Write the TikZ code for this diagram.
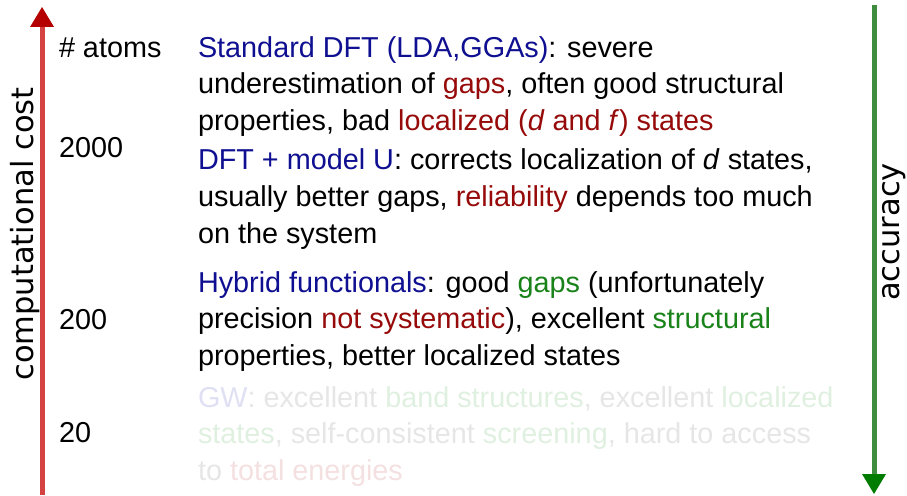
\documentclass[tikz,border=0pt]{standalone}
\usepackage{fontspec}
\setmainfont{Liberation Sans}
\newfontfamily\rotfont{DejaVu Sans}
\definecolor{cblue}{RGB}{15,15,145}
\definecolor{cred}{RGB}{150,10,10}
\definecolor{cgreen}{RGB}{25,130,25}
\definecolor{fblue}{RGB}{224,224,244}
\definecolor{fgray}{RGB}{230,230,230}
\definecolor{fgreen}{RGB}{224,240,224}
\definecolor{fred}{RGB}{244,224,224}
\definecolor{redshaft}{RGB}{212,66,66}
\definecolor{redtip}{RGB}{180,0,0}
\definecolor{greenshaft}{RGB}{62,140,62}
\definecolor{greentip}{RGB}{0,125,0}
\newcommand{\cB}[1]{\textcolor{cblue}{#1}}
\newcommand{\cR}[1]{\textcolor{cred}{#1}}
\newcommand{\cG}[1]{\textcolor{cgreen}{#1}}
\newcommand{\fB}[1]{\textcolor{fblue}{#1}}
\newcommand{\fR}[1]{\textcolor{fred}{#1}}
\newcommand{\fG}[1]{\textcolor{fgreen}{#1}}
\tikzset{
  txt/.style={font=\fontsize{28.8}{34}\selectfont, anchor=base west, inner sep=0pt, outer sep=0pt},
  faded/.style={txt, text=fgray},
  rottxt/.style={font=\rotfont\fontsize{30.5}{34}\selectfont, rotate=90, anchor=base, inner sep=0pt},
}
\begin{document}
\begin{tikzpicture}[x=1pt,y=1pt]
\useasboundingbox (0,0) rectangle (907,-495);
% red arrow (computational cost)
\coordinate (rbot) at (42,-495);
\coordinate (rtop) at (42,-27);
\coordinate (rtipL) at (30,-27);
\coordinate (rtipR) at (54,-27);
\coordinate (rtipT) at (42,-7);
\draw[redshaft, line width=5pt] (rbot) -- (rtop);
\fill[redtip] (rtipL) -- (rtipR) -- (rtipT) -- cycle;
% green arrow (accuracy)
\coordinate (gtop) at (874,-5);
\coordinate (gbot) at (874,-474);
\coordinate (gtipL) at (862,-474);
\coordinate (gtipR) at (886,-474);
\coordinate (gtipB) at (874,-494);
\draw[greenshaft, line width=5pt] (gtop) -- (gbot);
\fill[greentip] (gtipL) -- (gtipR) -- (gtipB) -- cycle;
% axis labels
\node[rottxt] (cost) at (33,-234) {computational cost};
\node[rottxt] (acc) at (899,-232) {accuracy};
% number of atoms
\node[txt] (atoms) at (59,-57) {\# atoms};
\node[txt] (n2000) at (59,-157) {2000};
\node[txt] (n200) at (59,-329) {200};
\node[txt] (n20) at (59,-442) {20};
% block 1
\node[txt] (a1) at (198,-57) {\cB{Standard DFT (LDA,GGAs)}: severe};
\node[txt] (a2) at (198,-93.5) {underestimation of \cR{gaps}, often good structural};
\node[txt] (a3) at (198,-130) {properties, bad \cR{localized (\textit{d} and \textit{f}) states}};
% block 2
\node[txt] (b1) at (198,-169) {\cB{DFT + model U}: corrects localization of \textit{d} states,};
\node[txt] (b2) at (198,-206) {usually better gaps, \cR{reliability} depends too much};
\node[txt] (b3) at (198,-243) {on the system};
% block 3
\node[txt] (c1) at (198,-292) {\cB{Hybrid functionals}: good \cG{gaps} (unfortunately};
\node[txt] (c2) at (198,-328) {precision \cR{not systematic}), excellent \cG{structural}};
\node[txt] (c3) at (198,-365) {properties, better localized states};
% block 4 (faded)
\node[faded] (d1) at (198,-407) {\fB{GW}: excellent \fG{band structures}, excellent \fG{localized}};
\node[faded] (d2) at (198,-443) {\fG{states}, self-consistent \fG{screening}, hard to access};
\node[faded] (d3) at (198,-480) {to \fR{total energies}};
\end{tikzpicture}
\end{document}
